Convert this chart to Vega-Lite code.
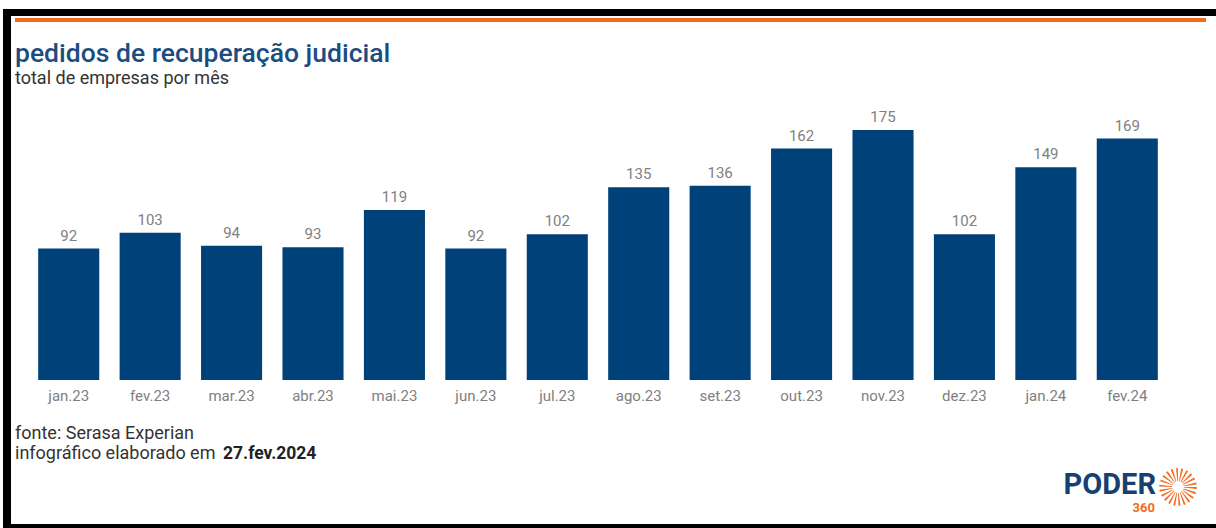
{
  "$schema": "https://vega.github.io/schema/vega-lite/v6.json",
  "width": 1140,
  "height": 250,
  "autosize": {"type": "none"},
  "padding": {"left": 28, "top": 130, "right": 48, "bottom": 148},
  "background": "white",
  "config": {"view": {"stroke": null}, "font": "Roboto"},
  "data": {
    "values": [
      {"mes": "jan.23", "total": 92},
      {"mes": "fev.23", "total": 103},
      {"mes": "mar.23", "total": 94},
      {"mes": "abr.23", "total": 93},
      {"mes": "mai.23", "total": 119},
      {"mes": "jun.23", "total": 92},
      {"mes": "jul.23", "total": 102},
      {"mes": "ago.23", "total": 135},
      {"mes": "set.23", "total": 136},
      {"mes": "out.23", "total": 162},
      {"mes": "nov.23", "total": 175},
      {"mes": "dez.23", "total": 102},
      {"mes": "jan.24", "total": 149},
      {"mes": "fev.24", "total": 169}
    ]
  },
  "encoding": {
    "x": {
      "field": "mes",
      "type": "nominal",
      "sort": null,
      "scale": {"paddingInner": 0.25, "paddingOuter": 0.125},
      "axis": {
        "title": null,
        "domain": false,
        "ticks": false,
        "labelAngle": 0,
        "labelFont": "Roboto",
        "labelFontSize": 15,
        "labelColor": "#808080",
        "labelPadding": 8
      }
    },
    "y": {
      "field": "total",
      "type": "quantitative",
      "scale": {"domain": [0, 175], "nice": false},
      "axis": null
    }
  },
  "layer": [
    {"mark": {"type": "bar", "color": "#01417a"}},
    {
      "mark": {"type": "text", "dy": -5, "fontSize": 15, "color": "#808080", "font": "Roboto", "baseline": "bottom"},
      "encoding": {"text": {"field": "total", "type": "quantitative"}}
    },
    {
      "data": {"values": [{"t": "pedidos de recuperação judicial"}]},
      "mark": {"type": "text", "align": "left", "baseline": "alphabetic", "fontSize": 26.5, "fontWeight": 500, "color": "#1a4d82", "font": "Roboto"},
      "encoding": {"x": {"value": -13}, "y": {"value": -68}, "text": {"field": "t"}}
    },
    {
      "data": {"values": [{"t": "total de empresas por mês"}]},
      "mark": {"type": "text", "align": "left", "baseline": "alphabetic", "fontSize": 18, "color": "#333333", "font": "Roboto"},
      "encoding": {"x": {"value": -13}, "y": {"value": -46}, "text": {"field": "t"}}
    },
    {
      "data": {"values": [{"t": "fonte: Serasa Experian"}]},
      "mark": {"type": "text", "align": "left", "baseline": "alphabetic", "fontSize": 18, "color": "#333333", "font": "Roboto"},
      "encoding": {"x": {"value": -13}, "y": {"value": 309}, "text": {"field": "t"}}
    },
    {
      "data": {"values": [{"t": "infográfico elaborado em"}]},
      "mark": {"type": "text", "align": "left", "baseline": "alphabetic", "fontSize": 18, "color": "#333333", "font": "Roboto"},
      "encoding": {"x": {"value": -13}, "y": {"value": 329}, "text": {"field": "t"}}
    },
    {
      "data": {"values": [{"t": "27.fev.2024"}]},
      "mark": {"type": "text", "align": "left", "baseline": "alphabetic", "fontSize": 17.5, "fontWeight": "bold", "color": "#222222", "font": "Roboto"},
      "encoding": {"x": {"value": 195}, "y": {"value": 329}, "text": {"field": "t"}}
    },
    {
      "data": {"values": [{"t": "PODER"}]},
      "mark": {"type": "text", "align": "right", "baseline": "alphabetic", "fontSize": 29, "fontWeight": "bold", "color": "#163f73", "font": "Roboto"},
      "encoding": {"x": {"value": 1128}, "y": {"value": 364}, "text": {"field": "t"}}
    },
    {
      "data": {"values": [{"t": "360"}]},
      "mark": {"type": "text", "align": "right", "baseline": "alphabetic", "fontSize": 13, "fontWeight": "bold", "color": "#f26b21", "font": "Roboto"},
      "encoding": {"x": {"value": 1127}, "y": {"value": 382}, "text": {"field": "t"}}
    },
    {
      "data": {"values": [{}]},
      "mark": {"type": "point", "shape": "circle", "filled": false, "size": 600, "stroke": "#f26b21", "strokeWidth": 13, "strokeDash": [1.3, 2.2], "opacity": 1},
      "encoding": {"x": {"value": 1150}, "y": {"value": 357}}
    },
    {
      "data": {"values": [{}]},
      "mark": {"type": "rule", "color": "#f26b21", "strokeWidth": 4},
      "encoding": {"x": {"value": -13}, "x2": {"value": 1178}, "y": {"value": -110}}
    },
    {
      "data": {"values": [{}]},
      "mark": {"type": "rule", "color": "#000000", "strokeWidth": 7},
      "encoding": {"x": {"value": -25}, "x2": {"value": 1188}, "y": {"value": -117.5}}
    },
    {
      "data": {"values": [{}]},
      "mark": {"type": "rule", "color": "#000000", "strokeWidth": 8},
      "encoding": {"x": {"value": -21}, "y": {"value": -121}, "y2": {"value": 398}}
    },
    {
      "data": {"values": [{}]},
      "mark": {"type": "rule", "color": "#000000", "strokeWidth": 5},
      "encoding": {"x": {"value": -25}, "x2": {"value": 1188}, "y": {"value": 396.5}}
    }
  ]
}
